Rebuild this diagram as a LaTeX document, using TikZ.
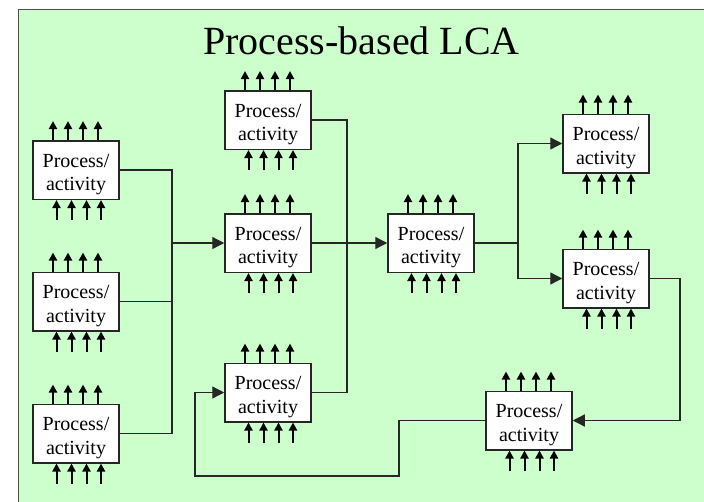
\documentclass[tikz,border=0pt]{standalone}
\usepackage{fontspec}
\setmainfont{Liberation Serif}
\usetikzlibrary{arrows.meta}
\definecolor{bggreen}{HTML}{CCFFCC}
% two-line label set at a fixed place inside the box
\newcommand\proclabel{\parbox[c][58.5pt][t]{86pt}{\centering
  \vspace*{9.8pt}\strut Process/\\activity}}
\begin{document}
\begin{tikzpicture}[x=1pt,y=-1pt,
  procbox/.style={draw=black!85, line width=1.5pt, fill=white,
    minimum width=86pt, minimum height=58.5pt, inner sep=0pt,
    font=\fontsize{20}{23.5}\selectfont},
  flow/.style={draw=black!85, line width=1.3pt},
  flowarrow/.style={flow, -{Triangle[length=12pt,width=12pt]}},
  stub/.style={line width=2pt, -{Triangle[length=8pt,width=8pt]}}]
\useasboundingbox (0,0) rectangle (704,501);
\fill[white] (0,0) rectangle (704,501);
\begin{scope}
  \clip (0,0) rectangle (704,501);
  \filldraw[fill=bggreen, draw=black!70, line width=1pt] (18,9) rectangle (720,520);
\end{scope}

\node[font=\fontsize{40}{48}\selectfont, anchor=base] (title) at (361.5,54) {Process-based LCA};

% process boxes
\node[procbox] (L1) at (76,170)    {\proclabel};
\node[procbox] (L2) at (76,301.5)  {\proclabel};
\node[procbox] (L3) at (76,433.5)  {\proclabel};
\node[procbox] (C1) at (268,120)   {\proclabel};
\node[procbox] (C2) at (268,243)   {\proclabel};
\node[procbox] (C3) at (268,392.5) {\proclabel};
\node[procbox] (M)  at (431,243)   {\proclabel};
\node[procbox] (R1) at (606,143.5) {\proclabel};
\node[procbox] (R2) at (606,278.5) {\proclabel};
\node[procbox] (B)  at (529,420.5) {\proclabel};

% inputs below and outputs above every box
\foreach \n in {L1,L2,L3,C1,C2,C3,M,R1,R2,B}{
  \foreach \dx in {-23,-8,7,22}
    \draw[stub] ([xshift=\dx pt]\n.north) -- ++(0pt,19pt);
  \foreach \dx in {-19.5,-4.5,10.5,25}
    \draw[stub] ([xshift=\dx pt,yshift=-20pt]\n.south) -- ++(0pt,20pt);
}

% junction points of the flow lines
\coordinate (jL) at (172,243);
\coordinate (jC) at (347,243);
\coordinate (jR) at (518,243);
\coordinate (rr) at (680,420.5);
\coordinate (b1) at (399,476);
\coordinate (b2) at (195,476);

% left column feeds the central box
\draw[flow] (L1.east) -| (jL);
\draw[flow] (L2.east) -| (jL);
\draw[flow] (L3.east) -| (jL);
\draw[flowarrow] (jL) -- (C2.west);

% central column feeds the middle box
\draw[flow] (C1.east) -| (jC);
\draw[flow] (C3.east) -| (jC);
\draw[flowarrow] (C2.east) -- (M.west);

% split to the right column
\draw[flow] (M.east) -- (jR);
\draw[flowarrow] (jR) |- (R1.west);
\draw[flowarrow] (jR) |- (R2.west);

% loop back through the bottom box
\draw[flowarrow] (R2.east) -| (rr) -- (B.east);
\draw[flowarrow] (B.west) -| (b1) -- (b2) |- (C3.west);
\end{tikzpicture}
\end{document}
